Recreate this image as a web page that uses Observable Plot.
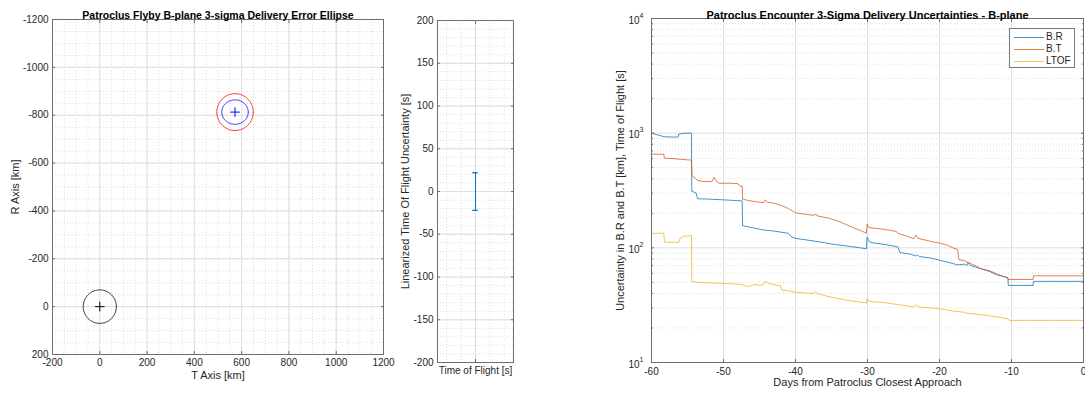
<!DOCTYPE html>
<html><head><meta charset="utf-8">
<script src="https://cdn.jsdelivr.net/npm/d3@7"></script>
<script src="https://cdn.jsdelivr.net/npm/@observablehq/plot@0.6"></script>
<style>
body{margin:0;background:#fff;}
#wrap{position:relative;width:1085px;height:397px;overflow:hidden;font-family:"Liberation Sans",Arial,Helvetica,sans-serif;color:#262626;}
#legend{position:absolute;left:1009px;top:28px;width:64px;height:38px;border:1px solid #7a7a7a;background:#fff;font-size:10px;}
#legend .row{position:absolute;left:0;height:12px;width:64px;}
#legend .sw{position:absolute;left:4px;top:6px;width:30px;height:0;border-top:1px solid;}
#legend .lb{position:absolute;left:36px;top:0;line-height:12px;}
</style></head><body><div id="wrap"></div>
<script>
// ---------- Panel 1: B-plane error ellipse ----------
const p1Title = "Patroclus Flyby B-plane 3-sigma Delivery Error Ellipse";
const p1XLabel = "T Axis [km]";
const p1YLabel = "R Axis [km]";
const p1TTicks = [-200, 0, 200, 400, 600, 800, 1000, 1200];
const p1RTicks = [-1200, -1000, -800, -600, -400, -200, 0, 200];
const ellipseNames = ["Target", "Delivery 3-sigma", "Delivery inner"];
const ellipseT = [0, 572, 572];
const ellipseR = [0, -813, -813];
const ellipseRadT = [70, 77, 56];
const ellipseRadR = [70, 77, 51];
const markerNames = ["Target", "Delivery"];
const markerT = [0, 572];
const markerR = [0, -813];

// ---------- Panel 2: time of flight ----------
const p2YLabel = "Linearized Time Of Flight Uncertainty [s]";
const p2XLabel = "Time of Flight [s]";
const p2Ticks = [-200, -150, -100, -50, 0, 50, 100, 150, 200];
const tofCenter = [0];
const tofUncertainty = [22];

// ---------- Panel 3: uncertainties vs days ----------
const p3Title = "Patroclus Encounter 3-Sigma Delivery Uncertainties - B-plane";
const p3XLabel = "Days from Patroclus Closest Approach";
const p3YLabel = "Uncertainty in B.R and B.T [km], Time of Flight [s]";
const p3XTicks = [-60, -50, -40, -30, -20, -10, 0];
const p3YExponents = [1, 2, 3, 4];
const seriesNames = ["B.R", "B.T", "LTOF"];

const brDays = [-60,-59,-58.2,-57,-56.3,-56.2,-55.6,-55.5,-54.45,-54.4,-53.8,-53.6,-52,-50,-48,-47.4,-47.35,-46,-44.4,-43,-41,-40.6,-40,-38,-36,-35,-33,-31,-30.15,-30.05,-29.8,-29.5,-28,-26.5,-25.8,-25.5,-24,-23.3,-23.1,-22.8,-21,-20,-18.5,-17.5,-16.5,-16.2,-16.0,-15.7,-15,-14,-13,-12,-11,-10.5,-10.45,-7,-6.95,0];
const brValues = [1000,960,930,925,925,980,995,1000,1000,312,300,268,266,262,258,256,156,150,143,140,134,125,121,116,111,108,104,100,98,124,114,111,108,104,102,91,88,85,87,84,81,78,74,71,72,70,75,70,68,65,62,58,56,55,47,47,51,51];

const btDays = [-60,-58.3,-58.2,-57,-56,-55,-54.45,-54.4,-54,-53.7,-53,-51.6,-51.3,-51.0,-50.6,-49,-48,-47.7,-47.4,-47.35,-46.5,-45,-44.4,-44.2,-43.9,-43,-42,-41,-40,-39,-37.5,-37.2,-37,-35.3,-34,-33,-32,-31,-30.15,-30.05,-29.8,-28,-26,-25.8,-24.5,-23.6,-23.3,-23,-22,-21,-20,-19,-18,-17.5,-17.3,-16.5,-16,-15.5,-15,-14.3,-13,-12,-11,-10.5,-10.45,-7,-6.95,0];
const btValues = [656,656,605,600,592,585,582,430,410,390,380,378,413,380,366,366,363,345,345,266,258,250,248,262,250,245,235,220,202,198,192,197,190,181,170,160,150,142,134,161,150,146,139,134,126,120,129,121,117,113,110,106,99,97,79,77,74,72,70,66,63,59,56,54,53,53,57,57];

const ltofDays = [-60,-58.3,-58.2,-56.2,-56.0,-55.6,-54.45,-54.4,-53.5,-50,-47.6,-47,-46.7,-46,-45.8,-45,-44.4,-44.2,-43.8,-42.5,-42.1,-41.9,-40,-38,-37.5,-37.2,-37,-35,-33,-30.15,-30.05,-29.7,-28,-25.8,-23.6,-23.3,-23,-20,-18,-16.6,-16.4,-14,-12,-10.5,-10.3,0];
const ltofValues = [134,134,112,112,122,126,128,51,50,49,48,47,46,47,48,47,48,51,49,47,47,43,41,40,40,41,40,37,35,33,36,34,33.5,32,30.5,32,30.5,29.5,28,27.5,27,26,25,24,23.3,23.3];

// ---------- shared ----------
const FONT = '"Liberation Sans", Arial, Helvetica, sans-serif';
const INK = "#262626";
const FRAME = "#6e6e6e";
const GRID = "#dedede";
const MINOR = "#cfcfcf";
const fmt = d => String(d);
function style(left) {
  return {fontFamily: FONT, fontSize: "10px", color: INK, background: "transparent",
          overflow: "visible", position: "absolute", top: "0px", left: left + "px", maxWidth: "none"};
}
const wrap = document.getElementById("wrap");

// ---------- Panel 1 ----------
const p1TMinor = d3.range(-200, 1201, 50);
const p1RMinor = d3.range(-1200, 201, 50);
const ellipseColors = ["#000000", "#ff0000", "#0000ff"];
const markerColors = ["#000000", "#0000ff"];
const ellipseMarks = ellipseNames.map((name, i) => {
  const pts = d3.range(0, 361, 3).map(a => ({
    t: ellipseT[i] + ellipseRadT[i] * Math.cos(a * Math.PI / 180),
    r: ellipseR[i] + ellipseRadR[i] * Math.sin(a * Math.PI / 180)
  }));
  return Plot.line(pts, {x: "t", y: "r", stroke: ellipseColors[i], strokeWidth: 0.8});
});
const markers = markerNames.map((n, i) => ({name: n, t: markerT[i], r: markerR[i], c: markerColors[i]}));

const p1 = Plot.plot({
  width: 400, height: 397, marginLeft: 52, marginRight: 17, marginTop: 19, marginBottom: 43,
  style: style(0),
  x: {domain: [-200, 1200]},
  y: {domain: [-1200, 200], reverse: true},
  marks: [
    Plot.gridX(p1TMinor, {stroke: MINOR, strokeOpacity: 1, strokeDasharray: "1,2", strokeWidth: 0.7}),
    Plot.gridY(p1RMinor, {stroke: MINOR, strokeOpacity: 1, strokeDasharray: "1,2", strokeWidth: 0.7}),
    Plot.gridX(p1TTicks, {stroke: GRID, strokeOpacity: 1}),
    Plot.gridY(p1RTicks, {stroke: GRID, strokeOpacity: 1}),
    ...ellipseMarks,
    ...markers.map(m => Plot.dot([m], {x: "t", y: "r", symbol: "plus", r: 3.2, stroke: m.c, strokeWidth: 1})),
    Plot.frame({stroke: FRAME}),
    Plot.axisX(p1TTicks, {anchor: "bottom", tickSize: 0, tickPadding: 4, label: null, fill: INK, tickFormat: fmt}),
    Plot.axisY(p1RTicks, {anchor: "left", tickSize: 0, tickPadding: 4, label: null, fill: INK, tickFormat: fmt}),
    Plot.axisX(p1TTicks, {anchor: "bottom", tickSize: -3, tickFormat: () => "", label: null, stroke: FRAME}),
    Plot.axisX(p1TTicks, {anchor: "top", tickSize: -3, tickFormat: () => "", label: null, stroke: FRAME}),
    Plot.axisY(p1RTicks, {anchor: "left", tickSize: -3, tickFormat: () => "", label: null, stroke: FRAME}),
    Plot.axisY(p1RTicks, {anchor: "right", tickSize: -3, tickFormat: () => "", label: null, stroke: FRAME}),
    Plot.text([p1Title], {frameAnchor: "top", dy: -8, textAnchor: "middle", text: d => d, fontWeight: "bold", fontSize: 10.5, fill: "#000"}),
    Plot.text([p1XLabel], {frameAnchor: "bottom", dy: 24, textAnchor: "middle", text: d => d, fontSize: 11, fill: INK}),
    Plot.text([p1YLabel], {frameAnchor: "left", dx: -37, rotate: -90, textAnchor: "middle", text: d => d, fontSize: 11, fill: INK})
  ]
});
wrap.appendChild(p1);

// ---------- Panel 2 ----------
const p2Minor = d3.range(-200, 201, 10);
const p2XGrid = [-2, -1, 1, 2];
const p2 = Plot.plot({
  width: 140, height: 397, marginLeft: 47, marginRight: 17, marginTop: 20, marginBottom: 35,
  style: style(390),
  x: {domain: [-2.64, 2.64]},
  y: {domain: [-200, 200]},
  marks: [
    Plot.gridY(p2Minor, {stroke: MINOR, strokeOpacity: 1, strokeDasharray: "1,2", strokeWidth: 0.7}),
    Plot.gridX(p2XGrid, {stroke: MINOR, strokeOpacity: 1, strokeDasharray: "1,2", strokeWidth: 0.7}),
    Plot.gridX(tofCenter, {stroke: GRID, strokeOpacity: 1}),
    Plot.gridY(p2Ticks, {stroke: GRID, strokeOpacity: 1}),
    Plot.ruleX(tofCenter, {x: d => d, y1: (d, i) => -tofUncertainty[i], y2: (d, i) => tofUncertainty[i], stroke: "#0072BD", strokeWidth: 1}),
    Plot.ruleY([-tofUncertainty[0], tofUncertainty[0]], {y: d => d, x1: tofCenter[0] - 0.2, x2: tofCenter[0] + 0.2, stroke: "#0072BD", strokeWidth: 1.2}),
    Plot.frame({stroke: FRAME}),
    Plot.axisY(p2Ticks, {anchor: "left", tickSize: 0, tickPadding: 4, label: null, fill: INK, tickFormat: fmt}),
    Plot.axisY(p2Ticks, {anchor: "left", tickSize: -3, tickFormat: () => "", label: null, stroke: FRAME}),
    Plot.axisY(p2Ticks, {anchor: "right", tickSize: -3, tickFormat: () => "", label: null, stroke: FRAME}),
    Plot.axisX(tofCenter, {anchor: "bottom", tickSize: -3, tickFormat: () => "", label: null, stroke: FRAME}),
    Plot.axisX(tofCenter, {anchor: "top", tickSize: -3, tickFormat: () => "", label: null, stroke: FRAME}),
    Plot.text([p2XLabel], {frameAnchor: "bottom", dy: 11, textAnchor: "middle", text: d => d, fontSize: 10, fill: INK}),
    Plot.text([p2YLabel], {frameAnchor: "left", dx: -32, rotate: -90, textAnchor: "middle", text: d => d, fontSize: 11, fill: INK})
  ]
});
wrap.appendChild(p2);

// ---------- Panel 3 ----------
const p3Decades = p3YExponents.map(e => Math.pow(10, e));
const p3Minor = [];
for (const e of [1, 2, 3]) for (let k = 2; k <= 9; k++) p3Minor.push(k * Math.pow(10, e));
const seriesColors = ["#0072BD", "#D95319", "#EDB120"];
const seriesDays = [brDays, btDays, ltofDays];
const seriesValues = [brValues, btValues, ltofValues];
const lineMarks = seriesNames.map((name, i) => {
  const rows = seriesDays[i].map((d, j) => ({day: d, value: seriesValues[i][j]}));
  return Plot.line(rows, {x: "day", y: "value", stroke: seriesColors[i], strokeWidth: 1, strokeOpacity: 0.75});
});
const p3 = Plot.plot({
  width: 495, height: 397, marginLeft: 61, marginRight: 2, marginTop: 18, marginBottom: 35,
  style: style(590),
  x: {domain: [-60, 0]},
  y: {type: "log", domain: [10, 10000]},
  marks: [
    Plot.gridY(p3Minor, {stroke: MINOR, strokeOpacity: 1, strokeDasharray: "1,2", strokeWidth: 0.7}),
    Plot.gridX(p3XTicks, {stroke: GRID, strokeOpacity: 1}),
    Plot.gridY(p3Decades, {stroke: GRID, strokeOpacity: 1}),
    ...lineMarks,
    Plot.frame({stroke: FRAME}),
    Plot.axisX(p3XTicks, {anchor: "bottom", tickSize: 0, tickPadding: 5, label: null, fill: INK, tickFormat: fmt}),
    Plot.axisX(p3XTicks, {anchor: "bottom", tickSize: -3, tickFormat: () => "", label: null, stroke: FRAME}),
    Plot.axisX(p3XTicks, {anchor: "top", tickSize: -3, tickFormat: () => "", label: null, stroke: FRAME}),
    Plot.axisY(p3Decades, {anchor: "left", tickSize: -3, tickFormat: () => "", label: null, stroke: FRAME}),
    Plot.axisY(p3Decades, {anchor: "right", tickSize: -3, tickFormat: () => "", label: null, stroke: FRAME}),
    Plot.axisY(p3Minor, {anchor: "left", tickSize: -2, tickFormat: () => "", label: null, stroke: FRAME}),
    Plot.axisY(p3Minor, {anchor: "right", tickSize: -2, tickFormat: () => "", label: null, stroke: FRAME}),
    Plot.text(p3Decades, {y: d => d, frameAnchor: "left", dx: -12, dy: 2, textAnchor: "end", text: () => "10", fontSize: 10, fill: INK}),
    Plot.text(p3YExponents, {y: d => Math.pow(10, d), frameAnchor: "left", dx: -12, dy: -3, textAnchor: "start", text: d => String(d), fontSize: 7, fill: INK}),
    Plot.text([p3Title], {frameAnchor: "top", dy: -7, textAnchor: "middle", text: d => d, fontWeight: "bold", fontSize: 11, fill: "#000"}),
    Plot.text([p3XLabel], {frameAnchor: "bottom", dy: 23, textAnchor: "middle", text: d => d, fontSize: 11, fill: INK}),
    Plot.text([p3YLabel], {frameAnchor: "left", dx: -31, rotate: -90, textAnchor: "middle", text: d => d, fontSize: 11, fill: INK})
  ]
});
wrap.appendChild(p3);

// ---------- Legend ----------
const legend = document.createElement("div");
legend.id = "legend";
seriesNames.forEach((name, i) => {
  const row = document.createElement("div");
  row.className = "row";
  row.style.top = (2 + i * 12) + "px";
  const sw = document.createElement("div");
  sw.className = "sw";
  sw.style.borderTopColor = seriesColors[i];
  sw.style.opacity = 0.75;
  const lb = document.createElement("div");
  lb.className = "lb";
  lb.textContent = name;
  row.appendChild(sw); row.appendChild(lb);
  legend.appendChild(row);
});
wrap.appendChild(legend);
</script></body></html>
